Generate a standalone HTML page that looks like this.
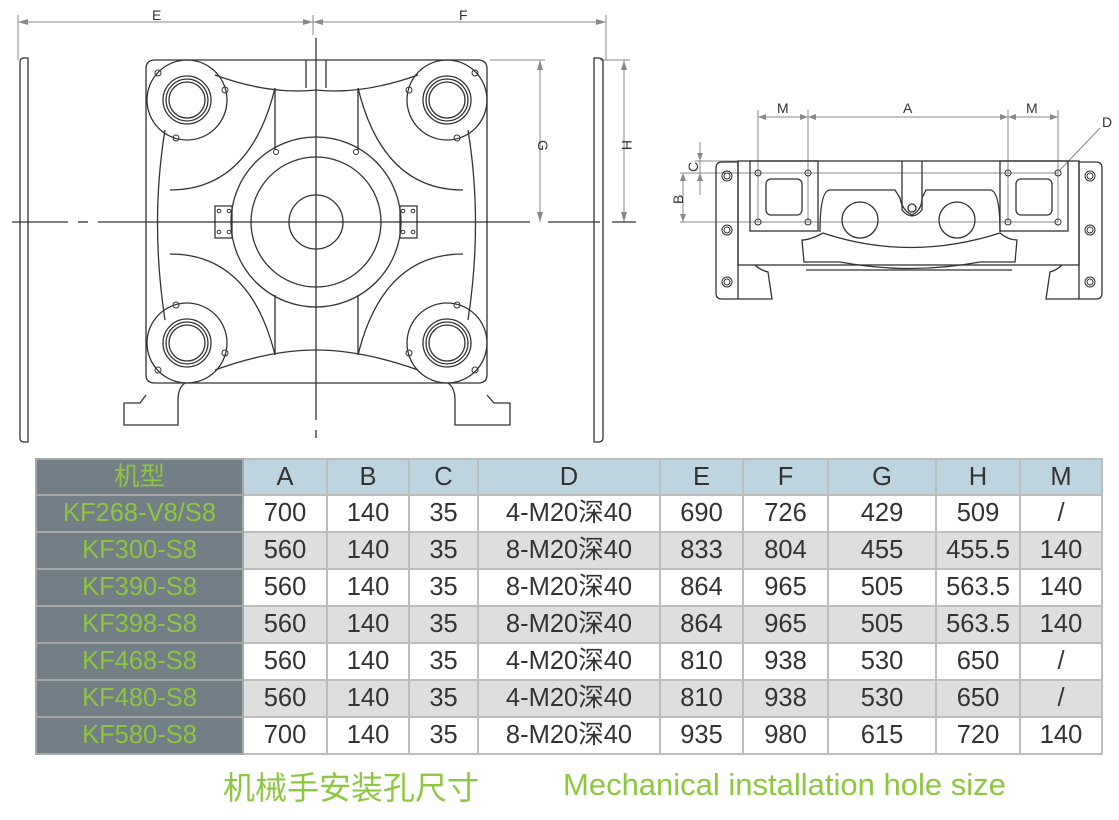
<!DOCTYPE html>
<html><head><meta charset="utf-8"><style>
body{margin:0;width:1119px;height:820px;background:#fff;position:relative;overflow:hidden;font-family:"Liberation Sans","Noto Sans CJK SC",sans-serif}
svg{position:absolute;left:0;top:0}
table{position:absolute;left:35px;top:458px;border-collapse:collapse;table-layout:fixed}
td{border:2px solid #bdbdbd;text-align:center;font-size:25.5px;color:#333;height:35px;padding:0;line-height:35px}
td.m{background:#737f86;color:#8dc63f;border-color:#a8a8a8}
tr.h td{background:#bcd5e1;height:34px;line-height:34px}
tr.g td{background:#dedede}
tr.g td.m,tr.h td.m{background:#737f86}
.cap{position:absolute;color:#8dc63f;white-space:nowrap}
</style></head><body>
<svg width="1119" height="460" viewBox="0 0 1119 460" fill="none" stroke="#333" stroke-width="1.3">
<g stroke="#888" stroke-width="1">
<line x1="18" y1="22" x2="606" y2="22"/><line x1="18" y1="15" x2="18" y2="60"/><line x1="313" y1="15" x2="313" y2="35"/><line x1="606" y1="15" x2="606" y2="60"/>
<line x1="540" y1="60" x2="540" y2="222"/><line x1="490" y1="60" x2="545" y2="60"/>
<line x1="624" y1="60" x2="624" y2="222"/><line x1="600" y1="60" x2="630" y2="60"/>
</g>
<g fill="#888" stroke="none"><polygon points="18,22 28,19 28,25"/><polygon points="313,22 303,19 303,25"/><polygon points="313,22 323,19 323,25"/><polygon points="606,22 596,19 596,25"/>
<polygon points="540,60 537,70 543,70"/><polygon points="540,222 537,212 543,212"/><polygon points="624,60 621,70 627,70"/><polygon points="624,222 621,212 627,212"/></g>
<g fill="#333" stroke="none" font-size="14"><text x="152" y="20">E</text><text x="459" y="20">F</text>
<text transform="translate(538,140) rotate(90)" >G</text><text transform="translate(622,140) rotate(90)">H</text></g>
<line x1="12" y1="222" x2="68" y2="222"/><line x1="78" y1="222" x2="88" y2="222" /><line x1="98" y1="222" x2="530" y2="222"/><line x1="548" y1="222" x2="600" y2="222"/><line x1="612" y1="222" x2="636" y2="222"/>
<line x1="316" y1="38" x2="316" y2="420"/><line x1="316" y1="430" x2="316" y2="438"/>
<path d="M20,62 Q20,58 24,58 L28,58 L28,442 L24,442 Q20,442 20,438 Z"/>
<path d="M594,58 L598,58 Q603,58 603,62 L603,438 Q603,442 598,442 L594,442 Z"/>
<path d="M155,60 L478,60 Q487,60 487,69 L487,375 Q487,383 478,383 L155,383 Q146,383 146,375 L146,69 Q146,60 155,60 Z"/>
<path d="M185,383 Q178,388 178,400 L178,425 L124,425 L124,403 L140,403 L146,395"/>
<path d="M448,383 Q455,388 455,400 L455,425 L510,425 L510,403 L494,403 L487,395"/>
<path d="M306,60 L306,88 M326,60 L326,88"/>
<path d="M215,75 Q270,95 316,90 Q362,95 418,75"/>
<path d="M215,370 Q270,350 316,350 Q362,350 418,370"/>
<path d="M275,88 L275,150 M358,88 L358,150 M275,355 L275,295 M358,355 L358,295"/>
<path d="M170,190 Q250,190 275,88 M463,190 Q383,190 358,88 M170,254 Q250,254 275,355 M463,254 Q383,254 358,355"/>
<path d="M165,130 Q150,222 165,320 M468,130 Q483,222 468,320"/>
<circle cx="316" cy="222" r="85"/><circle cx="316" cy="222" r="65"/><circle cx="316" cy="222" r="27"/>
<path d="M215,206 L232,206 L232,238 L215,238 Z M400,206 L417,206 L417,238 L400,238 Z"/>
<g stroke-width="1"><circle cx="219" cy="211" r="1.8"/><circle cx="229" cy="211" r="1.8"/><circle cx="219" cy="232" r="1.8"/><circle cx="229" cy="232" r="1.8"/>
<circle cx="403" cy="211" r="1.8"/><circle cx="413" cy="211" r="1.8"/><circle cx="403" cy="232" r="1.8"/><circle cx="413" cy="232" r="1.8"/>
<circle cx="276" cy="152" r="2.5"/><circle cx="356" cy="152" r="2.5"/></g>
<g><circle cx="187" cy="100" r="40" /><circle cx="187" cy="100" r="24"/><circle cx="187" cy="100" r="21"/><circle cx="187" cy="100" r="18"/></g>
<g><circle cx="447" cy="100" r="40"/><circle cx="447" cy="100" r="24"/><circle cx="447" cy="100" r="21"/><circle cx="447" cy="100" r="18"/></g>
<g><circle cx="187" cy="343" r="40"/><circle cx="187" cy="343" r="24"/><circle cx="187" cy="343" r="21"/><circle cx="187" cy="343" r="18"/></g>
<g><circle cx="447" cy="343" r="40"/><circle cx="447" cy="343" r="24"/><circle cx="447" cy="343" r="21"/><circle cx="447" cy="343" r="18"/></g>
<g stroke-width="1"><circle cx="158" cy="73" r="3"/><circle cx="225" cy="90" r="3"/><circle cx="176" cy="138" r="3"/>
<circle cx="475" cy="73" r="3"/><circle cx="409" cy="90" r="3"/><circle cx="457" cy="138" r="3"/>
<circle cx="158" cy="370" r="3"/><circle cx="225" cy="353" r="3"/><circle cx="176" cy="305" r="3"/>
<circle cx="475" cy="370" r="3"/><circle cx="409" cy="353" r="3"/><circle cx="457" cy="305" r="3"/></g>

<g stroke="#888" stroke-width="1">
<line x1="758" y1="117" x2="1058" y2="117"/>
<line x1="758" y1="110" x2="758" y2="222"/><line x1="808" y1="110" x2="808" y2="222"/><line x1="1008" y1="110" x2="1008" y2="222"/><line x1="1058" y1="110" x2="1058" y2="222"/>
<line x1="680" y1="173" x2="1058" y2="173"/><line x1="680" y1="222" x2="1058" y2="222"/><line x1="695" y1="161" x2="740" y2="161"/>
<line x1="700" y1="142" x2="700" y2="195"/><line x1="683" y1="173" x2="683" y2="222"/>
<line x1="1060" y1="170" x2="1100" y2="128"/>
</g>
<g fill="#888" stroke="none"><polygon points="758,117 766,114 766,120"/><polygon points="808,117 800,114 800,120"/><polygon points="808,117 816,114 816,120"/><polygon points="1008,117 1000,114 1000,120"/><polygon points="1008,117 1016,114 1016,120"/><polygon points="1058,117 1050,114 1050,120"/>
<polygon points="700,161 697,153 703,153"/><polygon points="700,173 697,181 703,181"/><polygon points="683,173 680,181 686,181"/><polygon points="683,222 680,214 686,214"/></g>
<g fill="#333" stroke="none" font-size="14"><text x="777" y="113">M</text><text x="903" y="113">A</text><text x="1026" y="113">M</text><text x="1102" y="127">D</text>
<text transform="translate(698,172) rotate(-90)">C</text><text transform="translate(683,204) rotate(-90)">B</text></g>
<rect x="738" y="161" width="341" height="104"/>
<path d="M722,162 L738,162 L738,299 L722,299 Q716,299 716,293 L716,168 Q716,162 722,162 Z"/>
<path d="M1079,162 L1096,162 Q1102,162 1102,168 L1102,293 Q1102,299 1096,299 L1079,299 Z"/>
<path d="M755,265 Q760,270 768,272 L772,299 L738,299 M1062,265 Q1057,270 1050,272 L1046,299 L1079,299"/>
<path d="M806,270 L1012,270"/>
<rect x="750" y="161" width="68" height="70"/><rect x="1000" y="161" width="68" height="70"/>
<rect x="766" y="179" width="36" height="36" rx="5"/><rect x="1016" y="179" width="36" height="36" rx="5"/>
<path d="M820,232 Q820,190 830,190 L895,190 L900,198 Q902,210 912,215 Q922,210 922,198 L926,190 L990,190 Q1000,190 1000,232"/>
<path d="M902,161 L902,210 Q912,222 922,210 L922,161"/><circle cx="912" cy="208" r="4"/>
<path d="M823,233 Q810,240 802,240 L804,262 L840,262 Q910,275 980,262 L1015,262 L1017,240 Q1008,240 1000,233 Q910,262 823,233"/>
<circle cx="860" cy="220" r="18"/><circle cx="957" cy="220" r="18"/>
<g stroke-width="1"><circle cx="758" cy="173" r="3"/><circle cx="808" cy="173" r="3"/><circle cx="758" cy="222" r="3"/><circle cx="808" cy="222" r="3"/>
<circle cx="1008" cy="173" r="3"/><circle cx="1058" cy="173" r="3"/><circle cx="1008" cy="222" r="3"/><circle cx="1058" cy="222" r="3"/>
<circle cx="727" cy="176" r="5"/><circle cx="727" cy="176" r="3"/><circle cx="727" cy="230" r="5"/><circle cx="727" cy="230" r="3"/><circle cx="727" cy="282" r="5"/><circle cx="727" cy="282" r="3"/>
<circle cx="1090" cy="176" r="5"/><circle cx="1090" cy="176" r="3"/><circle cx="1090" cy="230" r="5"/><circle cx="1090" cy="230" r="3"/><circle cx="1090" cy="282" r="5"/><circle cx="1090" cy="282" r="3"/></g>
</svg>
<table>
<colgroup><col style="width:207px"><col style="width:84px"><col style="width:82px"><col style="width:69px"><col style="width:182px"><col style="width:83px"><col style="width:85px"><col style="width:108px"><col style="width:84px"><col style="width:82px"></colgroup>
<tr class="h"><td class="m">机型</td><td>A</td><td>B</td><td>C</td><td>D</td><td>E</td><td>F</td><td>G</td><td>H</td><td>M</td></tr>
<tr><td class="m">KF268-V8/S8</td><td>700</td><td>140</td><td>35</td><td>4-M20深40</td><td>690</td><td>726</td><td>429</td><td>509</td><td>/</td></tr>
<tr class="g"><td class="m">KF300-S8</td><td>560</td><td>140</td><td>35</td><td>8-M20深40</td><td>833</td><td>804</td><td>455</td><td>455.5</td><td>140</td></tr>
<tr><td class="m">KF390-S8</td><td>560</td><td>140</td><td>35</td><td>8-M20深40</td><td>864</td><td>965</td><td>505</td><td>563.5</td><td>140</td></tr>
<tr class="g"><td class="m">KF398-S8</td><td>560</td><td>140</td><td>35</td><td>8-M20深40</td><td>864</td><td>965</td><td>505</td><td>563.5</td><td>140</td></tr>
<tr><td class="m">KF468-S8</td><td>560</td><td>140</td><td>35</td><td>4-M20深40</td><td>810</td><td>938</td><td>530</td><td>650</td><td>/</td></tr>
<tr class="g"><td class="m">KF480-S8</td><td>560</td><td>140</td><td>35</td><td>4-M20深40</td><td>810</td><td>938</td><td>530</td><td>650</td><td>/</td></tr>
<tr><td class="m">KF580-S8</td><td>700</td><td>140</td><td>35</td><td>8-M20深40</td><td>935</td><td>980</td><td>615</td><td>720</td><td>140</td></tr>
</table>
<div class="cap" style="left:223px;font-size:32px;top:764px;font-family:'Noto Sans CJK SC',sans-serif;line-height:44px">机械手安装孔尺寸</div>
<div class="cap" style="left:563px;font-size:31px;top:767px">Mechanical installation hole size</div>
</body></html>
